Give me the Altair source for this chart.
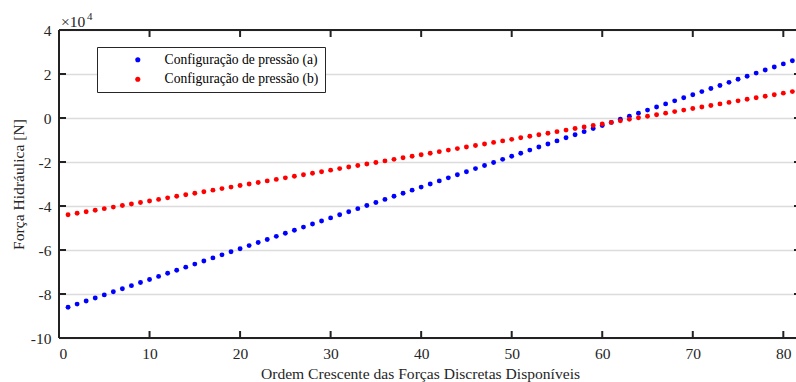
import altair as alt
import pandas as pd

# ---- data (values in units of 10^4 N) ----
ordem = list(range(1, 82))
serie_a = [-8.60, -8.46, -8.32, -8.18, -8.04, -7.90, -7.76, -7.62, -7.48, -7.34,
           -7.20, -7.06, -6.92, -6.78, -6.64, -6.50, -6.36, -6.22, -6.08, -5.94,
           -5.80, -5.66, -5.52, -5.38, -5.24, -5.10, -4.96, -4.82, -4.68, -4.54,
           -4.40, -4.26, -4.12, -3.98, -3.84, -3.70, -3.56, -3.42, -3.28, -3.14,
           -3.00, -2.86, -2.72, -2.58, -2.44, -2.30, -2.16, -2.02, -1.88, -1.74,
           -1.60, -1.46, -1.32, -1.18, -1.04, -0.90, -0.76, -0.62, -0.48, -0.34,
           -0.20, -0.06, 0.08, 0.22, 0.36, 0.50, 0.64, 0.78, 0.92, 1.06,
           1.20, 1.34, 1.48, 1.62, 1.76, 1.90, 2.04, 2.18, 2.32, 2.46,
           2.60]
serie_b = [-4.40, -4.33, -4.26, -4.19, -4.12, -4.05, -3.98, -3.91, -3.84, -3.77,
           -3.70, -3.63, -3.56, -3.49, -3.42, -3.35, -3.28, -3.21, -3.14, -3.07,
           -3.00, -2.93, -2.86, -2.79, -2.72, -2.65, -2.58, -2.51, -2.44, -2.37,
           -2.30, -2.23, -2.16, -2.09, -2.02, -1.95, -1.88, -1.81, -1.74, -1.67,
           -1.60, -1.53, -1.46, -1.39, -1.32, -1.25, -1.18, -1.11, -1.04, -0.97,
           -0.90, -0.83, -0.76, -0.69, -0.62, -0.55, -0.48, -0.41, -0.34, -0.27,
           -0.20, -0.13, -0.06, 0.01, 0.08, 0.15, 0.22, 0.29, 0.36, 0.43,
           0.50, 0.57, 0.64, 0.71, 0.78, 0.85, 0.92, 0.99, 1.06, 1.13,
           1.20]
nomes = ["Configuração de pressão (a)", "Configuração de pressão (b)"]
cores = ["#0000ff", "#ff0000"]
x_ticks = [0, 10, 20, 30, 40, 50, 60, 70, 80]
y_ticks = [-10, -8, -6, -4, -2, 0, 2, 4]
y_inner = [-8, -6, -4, -2, 0, 2]

W, H = 737, 308
FONT = "'Liberation Serif', 'Times New Roman', serif"
DARK = "#262626"

df = pd.DataFrame({
    "x": ordem + ordem,
    "y": serie_a + serie_b,
    "serie": [nomes[0]] * len(ordem) + [nomes[1]] * len(ordem),
})
xt = pd.DataFrame({"x": x_ticks})
yt = pd.DataFrame({"y": y_inner})
one = pd.DataFrame({"k": [0]})

xs = alt.Scale(domain=[0, 81.4], nice=False, zero=False)
ys = alt.Scale(domain=[-10, 4], nice=False, zero=False)

x_axis = alt.Axis(
    values=x_ticks, title="Ordem Crescente das Forças Discretas Disponíveis",
    grid=False, domain=False, ticks=False, labelPadding=8,
    labelFont=FONT, labelFontSize=15.5, labelColor=DARK,
    titleFont=FONT, titleFontSize=15.6, titleFontWeight="normal", titleColor=DARK,
    titleX=361, titleY=40, titleAnchor="start", titleAlign="center",
    titleBaseline="alphabetic")
y_axis = alt.Axis(
    values=y_ticks, title="Força Hidráulica [N]", labelExpr="datum.value",
    grid=True, gridColor="#dcdcdc", gridWidth=1.6,
    domain=False, ticks=False, labelPadding=8,
    labelFont=FONT, labelFontSize=15.5, labelColor=DARK,
    titleFont=FONT, titleFontSize=15.6, titleFontWeight="normal", titleColor=DARK,
    titleX=-41, titleY=154, titleAngle=270, titleAlign="center",
    titleBaseline="middle", titleAnchor="start")

enc_x = alt.X("x:Q", scale=xs, axis=x_axis)
enc_y = alt.Y("y:Q", scale=ys, axis=y_axis)

points = alt.Chart(df).mark_circle(size=24, opacity=1).encode(
    x=enc_x, y=enc_y,
    color=alt.Color("serie:N", scale=alt.Scale(domain=nomes, range=cores),
                    legend=alt.Legend(
                        title=None, orient="none", legendX=38, legendY=17,
                        fillColor="white", strokeColor=DARK, padding=6,
                        symbolType="circle", symbolSize=26, symbolOffset=28,
                        symbolStrokeWidth=0, labelOffset=20, rowPadding=4.4,
                        labelLimit=400,
                        labelFont=FONT, labelFontSize=13.6, labelColor="#000000")),
)

rule_kw = dict(color="#222222", strokeWidth=2)
frame_left = alt.Chart(one).mark_rule(**rule_kw).encode(
    x=alt.value(0), y=alt.value(0), y2=alt.value(H))
frame_top = alt.Chart(one).mark_rule(**rule_kw).encode(
    x=alt.value(0), x2=alt.value(W), y=alt.value(0))
frame_bottom = alt.Chart(one).mark_rule(**rule_kw).encode(
    x=alt.value(0), x2=alt.value(W), y=alt.value(H))

tick_bottom = alt.Chart(xt).mark_rule(**rule_kw).encode(
    x=enc_x, y=alt.value(H), y2=alt.value(H - 7))
tick_top = alt.Chart(xt).mark_rule(**rule_kw).encode(
    x=enc_x, y=alt.value(0), y2=alt.value(7))
tick_left = alt.Chart(yt).mark_rule(**rule_kw).encode(
    y=enc_y, x=alt.value(0), x2=alt.value(7))
tick_right = alt.Chart(yt).mark_rule(**rule_kw).encode(
    y=enc_y, x=alt.value(W - 2), x2=alt.value(W))

exp_base = alt.Chart(one).mark_text(
    text="×10", align="left", baseline="alphabetic", font=FONT,
    fontSize=15.5, color=DARK).encode(x=alt.value(2), y=alt.value(-3))
exp_pow = alt.Chart(one).mark_text(
    text="4", align="left", baseline="alphabetic", font=FONT,
    fontSize=11, color=DARK).encode(x=alt.value(28), y=alt.value(-10))

chart = alt.layer(
    points, frame_left, frame_top, frame_bottom,
    tick_bottom, tick_top, tick_left, tick_right, exp_base, exp_pow,
).properties(
    width=W, height=H,
    autosize=alt.AutoSizeParams(type="none"),
    padding={"left": 59, "top": 30, "right": 0, "bottom": 44},
).configure_view(stroke="transparent").configure(background="white")

chart.save("out.html", embed_options={"renderer": "svg", "actions": False})
